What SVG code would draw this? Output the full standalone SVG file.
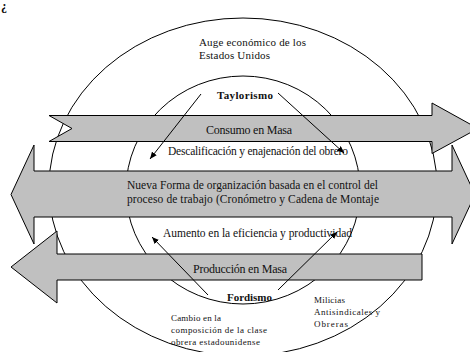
<svg xmlns="http://www.w3.org/2000/svg" width="470" height="352" viewBox="0 0 470 352">
<defs>
<marker id="ah" markerUnits="userSpaceOnUse" markerWidth="8" markerHeight="6" refX="7" refY="3" orient="auto">
<path d="M0,0 L7,3 L0,6 Z" fill="#000"/>
</marker>
<style>
.ring{fill:none;stroke:#000;stroke-width:1}
.band{fill:#c0c0c0;stroke:#000;stroke-width:1;stroke-linejoin:miter}
text{font-family:'Liberation Serif','Times New Roman',serif;fill:#111}
.b{font-weight:bold}
.lnk{stroke:#000;stroke-width:1;fill:none;marker-end:url(#ah)}
</style>
</defs>
<rect width="470" height="352" fill="#fff"/>
<g font-family="Liberation Serif, serif">
<text class="b" x="1" y="10" font-size="12">¿</text>
</g>
<g id="rings">
<ellipse id="outer" class="ring" cx="243" cy="187" rx="194" ry="169"/>
<ellipse id="inner" class="ring" cx="243" cy="190" rx="117" ry="114"/>
</g>
<g font-family="Liberation Serif, serif">
<g id="consumo">
<path class="band" d="M49,115.5 L432,115.5 L432,103 L478,128.5 L432,153.5 L432,141.5 L49,141.5 L72,128.5 Z"/>
<text x="206" y="134" font-size="12" textLength="86" lengthAdjust="spacing">Consumo en Masa</text>
</g>
<g id="nueva">
<path class="band" d="M11,194.5 L34,145 L34,171 L452,171 L452,145 L475,194.5 L452,244 L452,217 L34,217 L34,244 Z"/>
<text x="127" y="189" font-size="11.5" textLength="251" lengthAdjust="spacing">Nueva Forma de organización basada en el control del</text>
<text x="127" y="202.5" font-size="11.5" textLength="252" lengthAdjust="spacing">proceso de trabajo (Cronómetro y Cadena de Montaje</text>
</g>
<g id="produccion">
<path class="band" d="M11,267 L57,231 L57,254 L422,254 L422,280 L57,280 L57,303 Z"/>
<text x="193" y="273" font-size="12" textLength="94" lengthAdjust="spacing">Producción en Masa</text>
</g>
<g id="auge">
<text x="199" y="46" font-size="11" textLength="107" lengthAdjust="spacing">Auge económico de los</text>
<text x="199" y="59" font-size="11" textLength="71" lengthAdjust="spacing">Estados Unidos</text>
</g>
<g id="taylorismo">
<text class="b" x="217" y="99" font-size="11" textLength="56" lengthAdjust="spacing">Taylorismo</text>
</g>
<g id="descalificacion">
<text x="168" y="155" font-size="11.5" textLength="180" lengthAdjust="spacing">Descalificación y enajenación del obrero</text>
</g>
<g id="aumento">
<text x="163" y="236.5" font-size="11.5" textLength="189" lengthAdjust="spacing">Aumento en la eficiencia y productividad</text>
</g>
<g id="fordismo">
<text class="b" x="227" y="301" font-size="11" textLength="45" lengthAdjust="spacing">Fordismo</text>
</g>
<g id="cambio">
<text x="171" y="320.5" font-size="9" textLength="50" lengthAdjust="spacing">Cambio en la</text>
<text x="171" y="332.5" font-size="9" textLength="96" lengthAdjust="spacing">composición de la clase</text>
<text x="171" y="344.5" font-size="9" textLength="89" lengthAdjust="spacing">obrera estadounidense</text>
</g>
<g id="milicias">
<text x="314" y="303" font-size="9" textLength="31" lengthAdjust="spacing">Milicias</text>
<text x="314" y="315" font-size="9" textLength="66" lengthAdjust="spacing">Antisindicales y</text>
<text x="314" y="327" font-size="9" textLength="34" lengthAdjust="spacing">Obreras</text>
</g>
</g>
<g id="connectors">
<line class="lnk" x1="201" y1="94" x2="150" y2="159"/>
<line class="lnk" x1="278" y1="93" x2="344" y2="153"/>
<line class="lnk" x1="208" y1="295" x2="152" y2="237"/>
<line class="lnk" x1="278" y1="290" x2="337" y2="232"/>
</g>
</svg>
